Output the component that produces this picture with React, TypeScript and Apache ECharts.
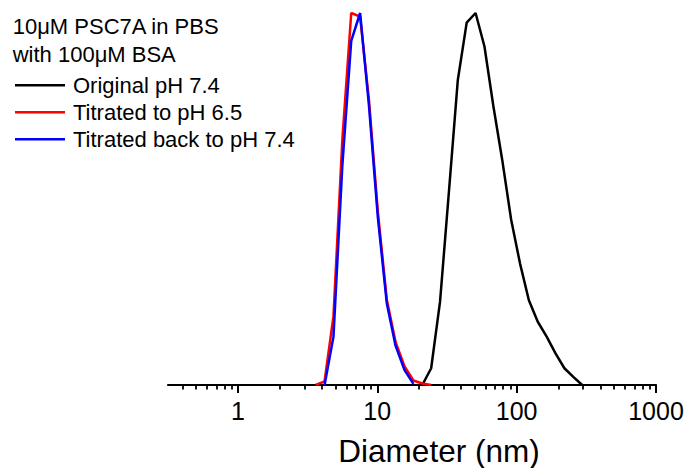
import React, { useEffect, useRef } from "react";
import * as echarts from "echarts";

// Size bins (nm) and intensity (% of peak)
const binsOriginal = [21.04, 24.36, 28.21, 32.67, 37.84, 43.82, 50.75, 58.77, 68.06, 78.82, 91.28, 105.7, 122.4, 141.8, 164.2, 190.1, 220.2, 255.0, 295.3];
const valuesOriginal = [0, 4.5, 22.4, 52, 82, 97.4, 100, 91, 75, 60.5, 44.5, 32.7, 22.8, 17, 13, 8.5, 4.5, 2.2, 0];

const binsAcid = [3.615, 4.187, 4.849, 5.615, 6.503, 7.531, 8.721, 10.1, 11.7, 13.54, 15.69, 18.17, 21.04, 24.36];
const valuesAcid = [0, 1, 18.5, 66, 100, 99, 76.5, 46.5, 23, 11.5, 5, 1.2, 0.4, 0];

const binsBack = [4.187, 4.849, 5.615, 6.503, 7.531, 8.721, 10.1, 11.7, 13.54, 15.69, 18.17];
const valuesBack = [0, 13, 59, 92.5, 100, 75, 45, 22, 10.5, 4, 0.3];

const seriesNames = ["Original pH 7.4", "Titrated to pH 6.5", "Titrated back to pH 7.4"];
const seriesColors = ["#000000", "#ff0000", "#0000ff"];

const majorTicks = [1, 10, 100, 1000];
const majorLabels = ["1", "10", "100", "1000"];
const minorTicks = [
  0.4, 0.5, 0.6, 0.7, 0.8, 0.9,
  2, 3, 4, 5, 6, 7, 8, 9,
  20, 30, 40, 50, 60, 70, 80, 90,
  200, 300, 400, 500, 600, 700, 800, 900,
];
const xMin = 0.315;
const xMax = 1000;

const titleLines = ["10\u03bcM PSC7A in PBS", "with 100\u03bcM BSA"];
const axisTitle = "Diameter (nm)";

const FONT = "'Liberation Sans', Arial, Helvetica, sans-serif";

function zip(xs: number[], ys: number[]) {
  return xs.map((x, i) => [x, ys[i]]);
}

export default function App() {
  const ref = useRef<HTMLDivElement>(null);

  useEffect(() => {
    if (!ref.current) return;
    const chart = echarts.init(ref.current, undefined, { renderer: "svg" });
    const datasets = [
      zip(binsOriginal, valuesOriginal),
      zip(binsAcid, valuesAcid),
      zip(binsBack, valuesBack),
    ];
    const baseX = {
      type: "log" as const,
      logBase: 10,
      min: xMin,
      max: xMax,
      position: "bottom" as const,
      splitLine: { show: false },
      minorTick: { show: false },
    };
    chart.setOption({
      animation: false,
      backgroundColor: "#ffffff",
      textStyle: { fontFamily: FONT },
      grid: {
        left: 168,
        right: 35,
        top: 13,
        bottom: 83,
        containLabel: false,
        outerBoundsMode: "none",
      },
      legend: {
        orient: "vertical",
        left: 15,
        top: 71.8,
        itemGap: 0,
        itemWidth: 50,
        itemHeight: 2.6,
        icon: "rect",
        padding: 0,
        data: seriesNames,
        textStyle: {
          fontSize: 22,
          lineHeight: 27,
          color: "#000",
          fontFamily: FONT,
          padding: [0, 0, 0, 3],
        },
      },
      xAxis: [
        {
          ...baseX,
          axisLine: { show: true, lineStyle: { color: "#000", width: 2.2 } },
          axisTick: {
            show: true,
            inside: false,
            length: 8,
            lineStyle: { color: "#000", width: 2 },
            customValues: majorTicks,
          },
          axisLabel: {
            show: true,
            customValues: majorTicks,
            fontSize: 25,
            color: "#000",
            fontFamily: FONT,
            margin: 13,
            formatter: (v: number) => {
              const idx = majorTicks.findIndex((t) => Math.abs(t - v) / t < 1e-6);
              return idx >= 0 ? majorLabels[idx] : "";
            },
          },
        },
        {
          ...baseX,
          axisLine: { show: false },
          axisTick: {
            show: true,
            inside: false,
            length: 4.5,
            lineStyle: { color: "#000", width: 1.8 },
            customValues: minorTicks,
          },
          axisLabel: { show: false },
        },
      ],
      yAxis: {
        type: "value",
        min: 0,
        max: 100,
        show: false,
        splitLine: { show: false },
      },
      series: datasets.map((d, i) => ({
        name: seriesNames[i],
        type: "line",
        xAxisIndex: 0,
        data: d,
        symbol: "none",
        showSymbol: false,
        color: seriesColors[i],
        lineStyle: { color: seriesColors[i], width: 2.5 },
        itemStyle: { color: seriesColors[i] },
        z: 3 + i,
      })),
      graphic: [
        ...titleLines.map((t, i) => ({
          type: "text",
          left: 12.7,
          top: 26.2 + i * 27.8 - 13.5,
          style: {
            text: t,
            fontSize: 22,
            lineHeight: 27,
            fill: "#000",
            fontFamily: FONT,
          },
        })),
        {
          type: "text",
          x: 439,
          y: 451,
          style: {
            text: axisTitle,
            fontSize: 31.5,
            fill: "#000",
            fontFamily: FONT,
            textAlign: "center",
            textVerticalAlign: "middle",
          },
        },
      ],
    });
    return () => chart.dispose();
  }, []);

  return (
    <div
      ref={ref}
      style={{ position: "fixed", left: 0, top: 0, width: 691, height: 468, background: "#fff" }}
    />
  );
}
